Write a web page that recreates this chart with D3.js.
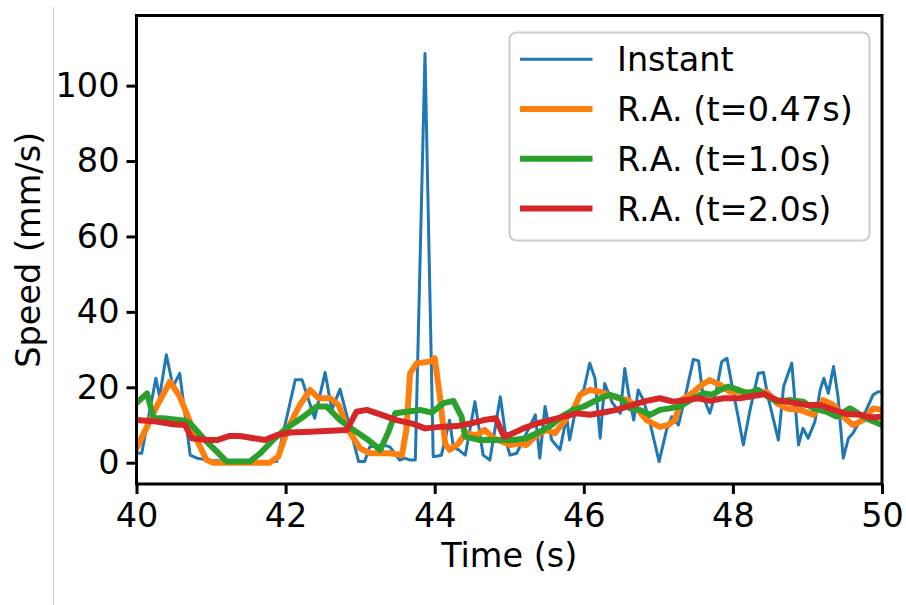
<!DOCTYPE html>
<html>
<head>
<meta charset="utf-8">
<script src="https://cdn.jsdelivr.net/npm/d3@7"></script>
<style>
    body { margin: 0; background: white; }
    text { font-family: "DejaVu Sans", sans-serif; fill: black; }
</style>
</head>
<body>
<div id="chart"></div>
<script>

// x ticks and y ticks
var xTicks = [40, 42, 44, 46, 48, 50];
var yTicks = [0, 20, 40, 60, 80, 100];

var seriesNames = ['Instant', 'R.A. (t=0.47s)', 'R.A. (t=1.0s)', 'R.A. (t=2.0s)'];
var seriesColors = ['#1f77b4', '#ff7f0e', '#2ca02c', '#d62728'];

// instant speed (time, value)
var instantT = [40.0, 40.07, 40.26, 40.31, 40.40, 40.49, 40.58, 40.72, 40.81, 41.0, 41.3, 41.6, 41.88,
    42.13, 42.22, 42.39, 42.53, 42.62, 42.73, 42.98, 43.06, 43.13, 43.31, 43.40, 43.53, 43.60, 43.67, 43.74,
    43.87, 43.98, 44.09, 44.20, 44.25, 44.32, 44.41, 44.54, 44.65, 44.74, 44.88, 44.97, 45.01, 45.10,
    45.35, 45.41, 45.48, 45.57, 45.68, 45.77, 45.81, 45.93, 46.0, 46.08, 46.15, 46.22, 46.28, 46.38,
    46.49, 46.55, 46.60, 46.67, 46.73, 46.80, 46.89, 47.01, 47.11, 47.18, 47.27, 47.36, 47.47, 47.54,
    47.60, 47.69, 47.78, 47.85, 47.92, 48.0, 48.07, 48.14, 48.23, 48.34, 48.41, 48.47, 48.61, 48.68,
    48.79, 48.88, 48.94, 49.01, 49.10, 49.17, 49.22, 49.28, 49.35, 49.41, 49.48, 49.55, 49.61, 49.70,
    49.79, 49.88, 49.95, 50.0];
var instantV = [2.5, 2.5, 22.4, 17.5, 28.6, 20.2, 23.7, 2.0, 1.2, 0.6, 0.4, 0.3, 0.3,
    22.0, 22.0, 11.8, 23.9, 14.0, 19.5, 0.3, 0.3, 4.2, 4.7, 4.2, 0.7, 1.2, 0.7, 0.7,
    108.5, 1.6, 2.0, 11.3, 4.2, 3.4, 2.0, 16.2, 2.0, 0.7, 17.5, 4.7, 2.0, 2.5,
    12.7, 1.2, 14.9, 6.0, 3.4, 12.2, 6.0, 18.0, 19.3, 26.4, 22.4, 6.5, 21.0, 16.0,
    13.1, 25.0, 18.4, 11.3, 19.3, 16.6, 10.4, 0.3, 8.7, 12.2, 10.0, 17.5, 27.4, 27.0,
    17.5, 13.1, 19.3, 26.8, 27.7, 19.3, 12.2, 4.7, 14.0, 23.7, 23.9, 17.5, 6.0, 20.2,
    26.4, 4.7, 9.1, 6.5, 10.9, 19.3, 22.4, 18.4, 25.5, 17.5, 1.2, 6.5, 7.8, 11.0,
    14.0, 18.0, 18.8, 18.8];

// running average, window 0.47 s
var ra047T = [40.0, 40.14, 40.27, 40.45, 40.58, 40.69, 40.81, 40.94, 41.03, 41.79, 41.90, 42.04, 42.19,
    42.33, 42.44, 42.60, 42.71, 42.84, 43.0, 43.13, 43.40, 43.56, 43.62, 43.67, 43.76, 43.94, 44.0,
    44.07, 44.14, 44.20, 44.32, 44.41, 44.56, 44.67, 44.79, 44.90, 45.01, 45.12, 45.23, 45.37, 45.50,
    45.61, 45.75, 45.88, 45.95, 46.08, 46.22, 46.33, 46.46, 46.60, 46.71, 46.84, 47.02, 47.13, 47.22,
    47.31, 47.45, 47.58, 47.69, 47.83, 47.96, 48.14, 48.32, 48.45, 48.59, 48.72, 48.90, 49.08, 49.21,
    49.35, 49.48, 49.61, 49.75, 49.88, 50.0];
var ra047V = [3.8, 9.5, 14.9, 21.5, 17.5, 12.2, 6.0, 0.7, 0.0, 0.0, 1.6, 9.5, 15.3,
    19.3, 17.1, 17.1, 15.3, 8.7, 3.8, 2.5, 2.5, 2.0, 8.7, 23.7, 26.4, 26.8, 27.7,
    17.5, 5.1, 3.4, 5.1, 7.8, 7.3, 8.7, 6.5, 5.6, 4.7, 5.1, 4.7, 7.3, 8.7,
    7.8, 11.3, 14.9, 18.0, 19.3, 18.8, 18.0, 17.1, 16.6, 14.4, 11.3, 9.5, 10.0, 11.3,
    16.6, 18.4, 20.6, 21.9, 20.6, 18.8, 18.8, 18.4, 18.8, 15.8, 14.4, 14.0, 12.7, 16.6,
    15.3, 12.2, 10.0, 11.3, 14.4, 14.0];

// running average, window 1.0 s
var ra10T = [40.0, 40.14, 40.23, 40.36, 40.65, 40.72, 40.92, 41.08, 41.21, 41.52, 41.66, 41.83, 42.01,
    42.24, 42.42, 42.55, 42.73, 42.91, 43.11, 43.27, 43.38, 43.47, 43.80, 43.96, 44.12, 44.25, 44.36,
    44.41, 44.61, 44.83, 45.05, 45.23, 45.41, 45.57, 45.70, 45.86, 46.0, 46.22, 46.35, 46.49, 46.62,
    46.75, 46.89, 47.02, 47.15, 47.29, 47.47, 47.60, 47.72, 47.83, 47.94, 48.07, 48.19, 48.34, 48.47,
    48.59, 48.77, 48.94, 49.08, 49.26, 49.39, 49.57, 49.71, 49.84, 50.0];
var ra10V = [15.8, 18.4, 11.8, 11.8, 11.1, 10.4, 6.0, 2.9, 0.3, 0.3, 2.5, 6.0, 9.1,
    12.2, 14.9, 14.9, 11.3, 8.7, 6.0, 3.4, 8.2, 13.1, 14.0, 13.3, 15.8, 16.4, 12.2,
    6.9, 6.0, 6.0, 6.0, 6.5, 8.2, 10.0, 12.2, 14.0, 14.9, 17.1, 18.0, 17.1, 14.4,
    14.0, 12.7, 14.0, 14.4, 14.9, 17.1, 18.4, 18.0, 19.3, 20.2, 19.3, 18.4, 19.3, 17.5,
    16.2, 16.6, 16.2, 14.4, 13.5, 12.2, 14.4, 12.7, 11.3, 10.0];

// running average, window 2.0 s
var ra20T = [40.0, 40.27, 40.49, 40.65, 40.74, 40.94, 41.08, 41.25, 41.39, 41.57, 41.72, 41.88, 42.06,
    42.33, 42.60, 42.82, 42.95, 43.09, 43.27, 43.49, 43.71, 43.87, 44.07, 44.30, 44.48, 44.66, 44.82,
    44.93, 45.05, 45.19, 45.37, 45.55, 45.73, 45.91, 46.08, 46.26, 46.44, 46.60, 46.84, 47.02, 47.20,
    47.38, 47.54, 47.69, 47.87, 48.09, 48.27, 48.43, 48.59, 48.81, 48.99, 49.17, 49.35, 49.53, 49.71,
    49.84, 50.0];
var ra20V = [11.3, 10.9, 10.2, 10.0, 6.5, 6.0, 6.0, 7.1, 7.1, 6.5, 6.0, 7.3, 8.0,
    8.2, 8.5, 8.7, 13.5, 14.0, 12.8, 11.3, 10.3, 9.1, 9.5, 9.7, 10.4, 11.3, 11.8,
    6.9, 7.8, 9.1, 10.4, 11.3, 12.2, 13.1, 12.7, 13.3, 14.0, 15.0, 16.4, 17.1, 16.2,
    16.6, 17.1, 16.4, 17.1, 17.1, 17.7, 18.2, 16.6, 15.9, 15.3, 15.3, 14.0, 12.9, 12.7,
    12.0, 12.2];

var width = 906, height = 605;
var plot = {left: 136.5, right: 882, top: 15.5, bottom: 484};
var fontSize = '33.5px';

var svg = d3.select('#chart').append('svg')
    .attr('width', width)
    .attr('height', height);

// thin grey line on the left edge of the picture
svg.append('line')
    .attr('x1', 53.5).attr('x2', 53.5)
    .attr('y1', 7).attr('y2', height)
    .style('stroke', '#d0d0d0')
    .style('stroke-width', 1);

var x = d3.scaleLinear().domain([40, 50]).range([plot.left, plot.right]);
var y = d3.scaleLinear().domain([-5.65, 118.6]).range([plot.bottom, plot.top]);

svg.append('clipPath').attr('id', 'clip')
    .append('rect')
    .attr('x', plot.left).attr('y', plot.top)
    .attr('width', plot.right - plot.left)
    .attr('height', plot.bottom - plot.top);

function make_series(ts, vs) {
    return ts.map(function(t, i) { return {t: t, v: vs[i]}; });
}

var series = [
    {data: make_series(instantT, instantV), width: 3},
    {data: make_series(ra047T, ra047V), width: 6},
    {data: make_series(ra10T, ra10V), width: 6},
    {data: make_series(ra20T, ra20V), width: 6}
];

var line = d3.line()
    .x(function(d) { return x(d.t); })
    .y(function(d) { return y(d.v); });

var lines = svg.append('g').attr('clip-path', 'url(#clip)');
series.forEach(function(s, i) {
    lines.append('path')
        .attr('d', line(s.data))
        .style('fill', 'none')
        .style('stroke', seriesColors[i])
        .style('stroke-width', s.width)
        .style('stroke-linejoin', 'round')
        .style('stroke-linecap', 'square');
});

// axes
var xAxis = d3.axisBottom(x).tickValues(xTicks).tickSize(10).tickPadding(9).tickFormat(d3.format('d'));
var yAxis = d3.axisLeft(y).tickValues(yTicks).tickSize(10).tickPadding(7).tickFormat(d3.format('d'));

var gx = svg.append('g').attr('transform', 'translate(0,' + plot.bottom + ')').call(xAxis);
var gy = svg.append('g').attr('transform', 'translate(' + plot.left + ',0)').call(yAxis);

[gx, gy].forEach(function(g) {
    g.select('.domain').remove();
    g.selectAll('.tick line').style('stroke', 'black').style('stroke-width', 3);
    g.selectAll('.tick text')
        .style('font-size', fontSize)
        .style('font-family', '"DejaVu Sans", sans-serif')
        .style('fill', 'black');
});

// frame
svg.append('rect')
    .attr('x', plot.left).attr('y', plot.top)
    .attr('width', plot.right - plot.left)
    .attr('height', plot.bottom - plot.top)
    .style('fill', 'none')
    .style('stroke', 'black')
    .style('stroke-width', 3)
    .style('stroke-linecap', 'square');

// axis labels
svg.append('text')
    .attr('x', (plot.left + plot.right) / 2)
    .attr('y', 567)
    .style('text-anchor', 'middle')
    .style('font-size', fontSize)
    .text('Time (s)');

svg.append('text')
    .attr('transform', 'translate(40,' + (plot.top + plot.bottom) / 2 + ') rotate(-90)')
    .style('text-anchor', 'middle')
    .style('font-size', fontSize)
    .text('Speed (mm/s)');

// legend
var legend = svg.append('g').attr('class', 'legend');
legend.append('rect')
    .attr('x', 509.5).attr('y', 32.5)
    .attr('width', 360).attr('height', 208)
    .attr('rx', 7).attr('ry', 7)
    .style('fill', 'white')
    .style('fill-opacity', 0.8)
    .style('stroke', '#cccccc')
    .style('stroke-width', 2);

var rowY = d3.scaleLinear().domain([0, 3]).range([59.3, 208.5]);

seriesNames.forEach(function(name, i) {
    legend.append('line')
        .attr('x1', 520).attr('x2', 592.5)
        .attr('y1', rowY(i)).attr('y2', rowY(i))
        .style('stroke', seriesColors[i])
        .style('stroke-width', series[i].width);
    legend.append('text')
        .attr('x', 617)
        .attr('y', rowY(i) + 12)
        .style('font-size', fontSize)
        .text(name);
});

</script>
</body>
</html>
